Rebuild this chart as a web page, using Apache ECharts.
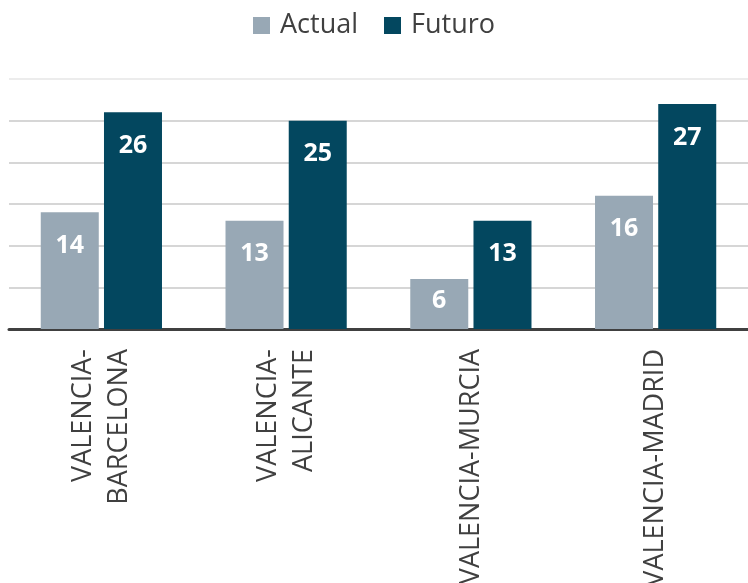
<!DOCTYPE html>
<html>
<head>
<meta charset="utf-8">
<script src="https://cdn.jsdelivr.net/npm/echarts@6/dist/echarts.min.js"></script>
<style>
  html, body { margin: 0; padding: 0; background: #fff; }
  #chart { width: 748px; height: 583px; }
</style>
</head>
<body>
<div id="chart"></div>
<script>
const categories = ['VALENCIA-\nBARCELONA', 'VALENCIA-\nALICANTE', 'VALENCIA-MURCIA', 'VALENCIA-MADRID']
const actual = [14, 13, 6, 16]
const futuro = [26, 25, 13, 27]

const font = '"Open Sans", sans-serif'
const myChart = echarts.init(document.getElementById('chart'), null, { renderer: 'canvas' })

function barLabel(value) {
  // short bars get their label nearer the top
  return value < 10 ? { distance: 9 } : {}
}

myChart.setOption({
  animation: false,
  textStyle: { fontFamily: font },
  legend: {
    data: ['Actual', 'Futuro'],
    top: 7,
    left: 'center',
    itemWidth: 17,
    itemHeight: 17,
    itemGap: 26,
    icon: 'rect',
    textStyle: { fontSize: 27, color: '#404040', fontFamily: font, padding: [0, 0, 0, 5] }
  },
  grid: {
    left: 9,
    right: 0,
    top: 79,
    bottom: 254,
    containLabel: false,
    outerBoundsMode: 'none'
  },
  xAxis: {
    type: 'category',
    data: categories,
    axisLine: { lineStyle: { color: '#404040', width: 3 } },
    axisTick: { show: false },
    axisLabel: {
      rotate: 90,
      margin: 20,
      fontSize: 27,
      lineHeight: 36,
      color: '#404040',
      fontFamily: font,
      interval: 0
    }
  },
  yAxis: {
    type: 'value',
    min: 0,
    max: 30,
    interval: 5,
    axisLabel: { show: false },
    axisLine: { show: false },
    axisTick: { show: false },
    splitLine: {
      lineStyle: {
        color: ['#c8c8c8', '#c8c8c8', '#c8c8c8', '#c8c8c8', '#c8c8c8', '#c8c8c8', '#e6e6e6'],
        width: 1.5
      }
    }
  },
  series: [
    {
      name: 'Actual',
      type: 'bar',
      barWidth: 58,
      barGap: '9%',
      itemStyle: { color: '#98a8b5' },
      label: {
        show: true,
        position: 'insideTop',
        distance: 21,
        color: '#fff',
        fontSize: 25,
        fontWeight: 'bold',
        fontFamily: font
      },
      data: actual.map(v => ({ value: v, label: barLabel(v) }))
    },
    {
      name: 'Futuro',
      type: 'bar',
      barWidth: 58,
      barGap: '9%',
      itemStyle: { color: '#03475f' },
      label: {
        show: true,
        position: 'insideTop',
        distance: 21,
        color: '#fff',
        fontSize: 25,
        fontWeight: 'bold',
        fontFamily: font
      },
      data: futuro.map(v => ({ value: v, label: barLabel(v) }))
    }
  ]
})
</script>
</body>
</html>
